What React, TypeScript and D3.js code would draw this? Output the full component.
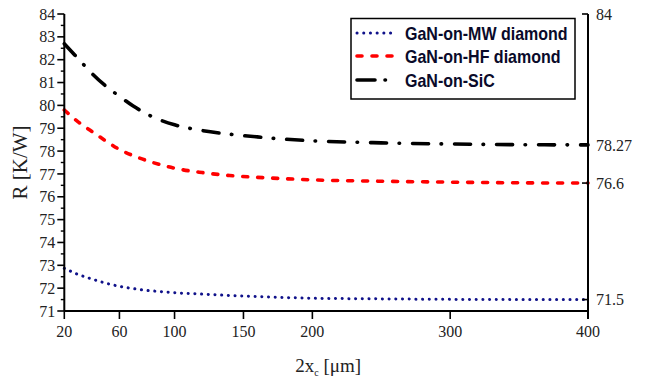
import React from "react";
import * as d3 from "d3";

const xValues = [20, 30, 40, 50, 60, 70, 80, 90, 100, 120, 140, 160, 180, 200, 250, 300, 350, 400];
const mwDiamond = [72.87, 72.6, 72.4, 72.22, 72.08, 71.98, 71.9, 71.85, 71.8, 71.74, 71.68, 71.63, 71.59, 71.56, 71.53, 71.51, 71.5, 71.5];
const hfDiamond = [79.8, 79.28, 78.86, 78.45, 78.07, 77.8, 77.58, 77.4, 77.25, 77.06, 76.93, 76.85, 76.79, 76.74, 76.68, 76.64, 76.61, 76.6];
const sic = [82.7, 82.05, 81.4, 80.85, 80.4, 79.97, 79.62, 79.35, 79.15, 78.9, 78.74, 78.62, 78.52, 78.45, 78.36, 78.31, 78.28, 78.27];

const xTicks = [20, 60, 100, 150, 200, 300, 400];
const yTicks = [71, 72, 73, 74, 75, 76, 77, 78, 79, 80, 81, 82, 83, 84];
const yMinorTicks = [71.5, 72.5, 73.5, 74.5, 75.5, 76.5, 77.5, 78.5, 79.5, 80.5, 81.5, 82.5, 83.5];
const rightTicks = [84, 78.27, 76.6, 71.5];
const rightTickLabels = ["84", "78.27", "76.6", "71.5"];
const seriesNames = ["GaN-on-MW diamond", "GaN-on-HF diamond", "GaN-on-SiC"];

const W = 645;
const H = 387;
const left = 64.3;
const right = 588;
const top = 14;
const bottom = 311;

const serif = "'Liberation Serif', 'Times New Roman', serif";
const sans = "'Liberation Sans', Arial, sans-serif";

const styles = [
  { color: "#10128a", width: 3, dash: "0.1 6.6", cap: "round" },
  { color: "#ff0000", width: 3.6, dash: "5 10", cap: "round" },
  { color: "#000000", width: 3.6, dash: "16 12.5 0.5 13", cap: "round" },
];

export default function App() {
  const x = d3.scaleLinear().domain([20, 400]).range([left, right]);
  const y = d3.scaleLinear().domain([71, 84]).range([bottom, top]);
  const line = d3
    .line<number>()
    .x((_, i) => x(xValues[i]))
    .y((d) => y(d))
    .curve(d3.curveMonotoneX);
  const series = [mwDiamond, hfDiamond, sic];

  return (
    <svg width={W} height={H} style={{ position: "absolute", left: 0, top: 0, background: "#fff" }}>
      {series.map((s, i) => (
        <path
          key={i}
          d={line(s) || ""}
          fill="none"
          stroke={styles[i].color}
          strokeWidth={styles[i].width}
          strokeDasharray={styles[i].dash}
          strokeLinecap={styles[i].cap as any}
        />
      ))}

      {/* left axis */}
      <line x1={left} x2={left} y1={top} y2={bottom} stroke="#000" strokeWidth={2} />
      {yTicks.map((t) => (
        <g key={t}>
          <line x1={left - 7} x2={left} y1={y(t)} y2={y(t)} stroke="#000" strokeWidth={1.6} />
          <text x={left - 9} y={y(t)} dy="0.35em" textAnchor="end" fontFamily={serif} fontSize={16} fill="#222">
            {t}
          </text>
        </g>
      ))}
      {yMinorTicks.map((t) => (
        <line key={t} x1={left - 3.5} x2={left} y1={y(t)} y2={y(t)} stroke="#000" strokeWidth={1.4} />
      ))}

      {/* bottom axis */}
      <line x1={left} x2={right} y1={bottom} y2={bottom} stroke="#000" strokeWidth={2} />
      {xTicks.map((t) => (
        <g key={t}>
          <line x1={x(t)} x2={x(t)} y1={bottom} y2={bottom + 8} stroke="#000" strokeWidth={1.6} />
          <text x={x(t)} y={bottom + 26} textAnchor="middle" fontFamily={serif} fontSize={16} fill="#222">
            {t}
          </text>
        </g>
      ))}

      {/* right axis */}
      <line x1={right} x2={right} y1={top} y2={bottom + 8} stroke="#000" strokeWidth={2} />
      {rightTicks.map((t, i) => (
        <g key={t}>
          <line x1={right - 6} x2={right} y1={y(t)} y2={y(t)} stroke="#000" strokeWidth={1.6} />
          <text x={right + 8} y={y(t)} dy="0.35em" textAnchor="start" fontFamily={serif} fontSize={16} fill="#222">
            {rightTickLabels[i]}
          </text>
        </g>
      ))}

      {/* axis titles */}
      <text
        transform={`translate(27,${(top + bottom) / 2}) rotate(-90)`}
        textAnchor="middle"
        fontFamily={serif}
        fontSize={21}
        fill="#222"
      >
        R [K/W]
      </text>
      <text x={(left + right) / 2 + 2} y={372} textAnchor="middle" fontFamily={serif} fontSize={19} fill="#222">
        2x
        <tspan fontSize={10} dy={4}>c</tspan>
        <tspan dy={-4}> [μm]</tspan>
      </text>

      {/* legend */}
      <rect x={351} y={18.5} width={224} height={80.5} fill="#fff" stroke="#000" strokeWidth={1.5} />
      {seriesNames.map((n, i) => {
        const ly = [33, 56, 80][i];
        return (
          <g key={n}>
            <line
              x1={357}
              x2={397}
              y1={ly}
              y2={ly}
              stroke={styles[i].color}
              strokeWidth={styles[i].width}
              strokeDasharray={i === 2 ? "18 10 0.5 30" : styles[i].dash}
              strokeLinecap={styles[i].cap as any}
            />
            <text
              transform={`translate(405,${ly + 6.5}) scale(0.89,1)`}
              fontFamily={sans}
              fontWeight="bold"
              fontSize={18}
              fill="#0a0a2a"
            >
              {n}
            </text>
          </g>
        );
      })}
    </svg>
  );
}
